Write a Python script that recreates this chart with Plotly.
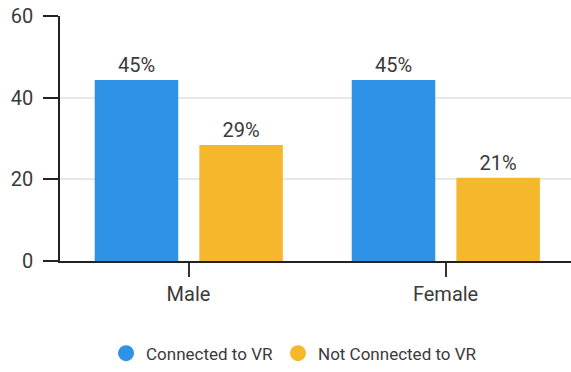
import plotly.graph_objects as go

categories = ["Male", "Female"]
connected = [44.3, 44.3]
not_connected = [28.4, 20.4]
connected_labels = ["45%", "45%"]
not_connected_labels = ["29%", "21%"]
series_names = ["Connected to VR", "Not Connected to VR"]
y_ticks = [0, 20, 40, 60]

BLUE = "#2E92E7"
YELLOW = "#F5B82C"
TEXT = "#3a3a3a"
FONT = "Roboto"

fig = go.Figure()
fig.add_trace(go.Bar(
    x=categories, y=connected, text=connected_labels, name=series_names[0],
    marker=dict(color=BLUE, line=dict(width=0)), width=0.325, offset=-0.365,
    textposition="outside", textfont=dict(size=20, color=TEXT, family=FONT),
    cliponaxis=False, showlegend=False,
))
fig.add_trace(go.Bar(
    x=categories, y=not_connected, text=not_connected_labels, name=series_names[1],
    marker=dict(color=YELLOW, line=dict(width=0)), width=0.325, offset=0.042,
    textposition="outside", textfont=dict(size=20, color=TEXT, family=FONT),
    cliponaxis=False, showlegend=False,
))
for name, col in zip(series_names, [BLUE, YELLOW]):
    fig.add_trace(go.Scatter(
        x=[None], y=[None], mode="markers", name=name,
        marker=dict(color=col, size=20, symbol="circle"),
    ))

fig.update_layout(
    width=571, height=372,
    margin=dict(l=60, r=0, t=16, b=108),
    paper_bgcolor="white", plot_bgcolor="white",
    font=dict(family=FONT, color=TEXT, size=20),
    barmode="group",
    legend=dict(
        orientation="h", x=0.458, xanchor="center", y=-0.378, yanchor="middle",
        font=dict(size=17, color=TEXT, family=FONT),
        itemsizing="trace",
    ),
    xaxis=dict(
        range=[-0.5, 1.488], showline=True, linecolor="#222", linewidth=1.5,
        ticks="outside", ticklen=14, tickwidth=1.5, tickcolor="#333",
        tickfont=dict(size=20, color=TEXT), showgrid=False, zeroline=False,
        fixedrange=True,
    ),
    yaxis=dict(
        range=[0, 60], tickvals=y_ticks, showline=True, linecolor="#222", linewidth=1.5,
        ticks="outside", ticklen=15, tickwidth=1.5, tickcolor="#222",
        tickfont=dict(size=20, color=TEXT), ticklabelstandoff=6,
        showgrid=True, gridcolor="#e8e8e8", gridwidth=1.5, zeroline=False,
    ),
)

fig.write_html("out.html")
